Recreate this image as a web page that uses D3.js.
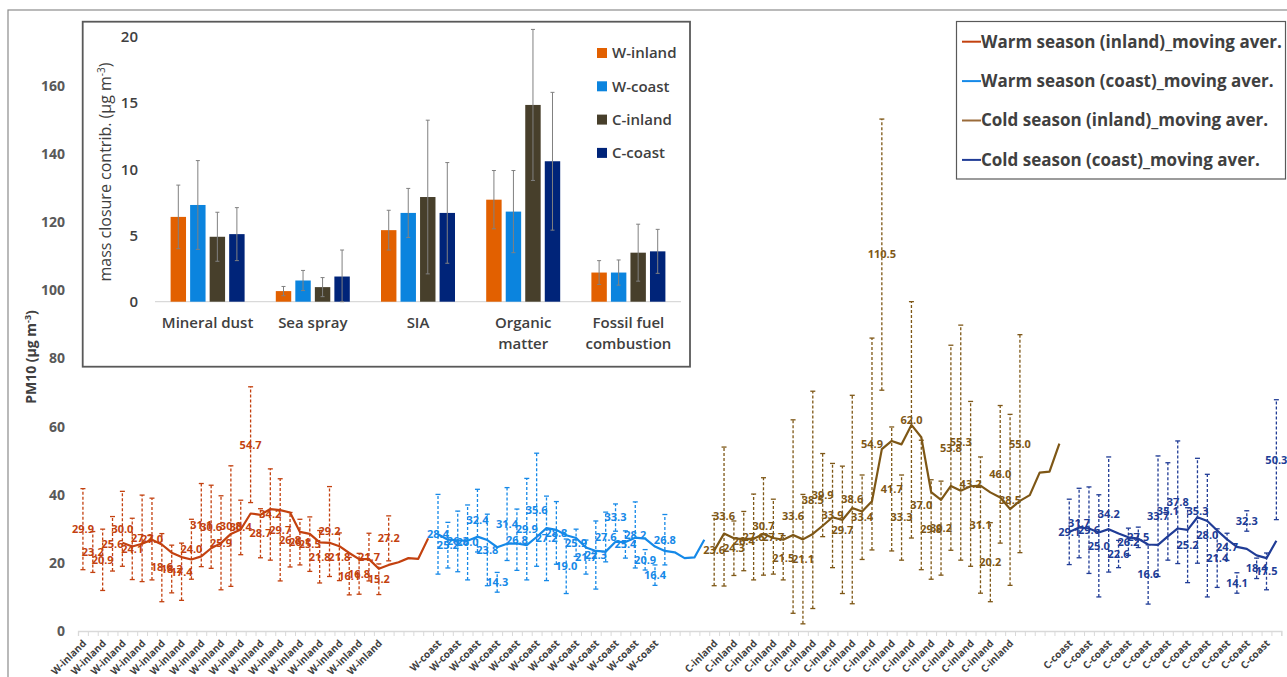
<!DOCTYPE html>
<html>
<head>
<meta charset="utf-8">
<script src="https://cdnjs.cloudflare.com/ajax/libs/d3/7.8.5/d3.min.js"></script>
<style>
body { margin: 0; background: #fff; }
text { font-family: "Open Sans", sans-serif; }
</style>
</head>
<body>
<div id="chart"></div>
<script>
// ---- main chart data: PM10 per sample (mean, sd) and moving average ----
const groupNames = ["W-inland", "W-coast", "C-inland", "C-coast"]
const groupStart = [0, 36, 64, 100]
const maStart = [4, 36, 64, 100]
const nSlots = 122
const yTicks = [0, 20, 40, 60, 80, 100, 120, 140, 160]

const wInlandMean = [29.9, 23.2, 20.9, 25.6, 30.0, 24.1, 27.2, 27.0, 18.6, 18.2, 17.4, 24.0, 31.1, 30.6, 25.9, 30.8,
  30.4, 54.7, 28.7, 34.2, 29.7, 26.8, 26.1, 25.5, 21.8, 29.2, 21.8, 16.1, 16.8, 21.7, 15.2, 27.2]
const wInlandSd = [11.9, 6, 9, 8, 11, 9, 12.7, 12, 10, 7, 8.4, 8.8, 12.2, 12.2, 13.8, 17.7,
  8, 17, 7.2, 13.4, 15, 8, 6.7, 8, 7.7, 13.2, 7, 5.5, 6, 7, 4.5, 6.6]
const wInlandMA = [25.9, 24.8, 25.6, 26.8, 25.4, 23.0, 21.7, 21.0, 21.9, 24.3, 25.8, 28.5, 29.8, 34.5, 34.1, 35.8,
  35.5, 34.8, 29.1, 28.5, 26.0, 25.9, 24.9, 22.9, 21.1, 21.1, 18.3, 19.4, 20.2, 21.4, 21.2, 27.2]

const wCoastMean = [28.4, 25.2, 26.3, 26.0, 32.4, 23.8, 14.3, 31.4, 26.8, 29.9, 35.6, 27.2, 28.8, 19.0, 25.9, 21.7,
  22.3, 27.6, 33.3, 25.4, 28.2, 20.9, 16.4, 26.8]
const wCoastSd = [11.7, 6.7, 8.9, 11, 9.2, 10.5, 2.9, 10.7, 9, 14.9, 16.6, 12.4, 9.2, 8, 4, 5,
  10, 7.3, 4, 4, 9.7, 3, 3, 7.4]
const wCoastMA = [28.4, 26.8, 26.6, 26.5, 27.7, 26.7, 24.6, 25.6, 25.7, 25.2, 27.6, 30.2, 29.7, 28.1, 27.3, 24.5,
  23.5, 23.3, 26.2, 26.1, 27.4, 27.1, 24.8, 23.5, 23.1, 21.4, 21.6, 26.8]

const cInlandMean = [23.6, 33.6, 24.3, 26.4, 27.6, 30.7, 27.7, 21.5, 33.6, 21.1, 38.5, 39.9, 33.9, 29.7, 38.6, 33.4,
  54.9, 110.5, 41.7, 33.3, 62.0, 37.0, 29.8, 30.2, 53.8, 55.3, 43.2, 31.1, 20.2, 46.0, 38.5, 55.0]
const cInlandSd = [10.3, 20.4, 8, 8.7, 12.6, 14.3, 11, 6.5, 28.4, 19, 31.9, 12.2, 15.3, 18.7, 30.6, 12.4,
  31.1, 39.8, 18.2, 12.5, 34.7, 19, 14.6, 13.8, 30.1, 34.5, 24.2, 20, 11.6, 20.2, 25.1, 32]
const cInlandMA = [23.6, 28.6, 27.2, 27.0, 27.1, 28.5, 27.3, 26.8, 28.2, 26.9, 28.5, 30.9, 33.4, 32.6, 36.1, 35.1,
  38.1, 53.4, 55.8, 54.8, 60.5, 56.9, 40.8, 38.5, 42.6, 41.2, 42.5, 42.7, 40.7, 39.2, 35.8, 38.2,
  39.9, 46.5, 46.8, 55.0]

const cCoastMean = [29.1, 31.7, 29.6, 25.0, 34.2, 22.6, 26.2, 27.5, 16.6, 33.7, 35.1, 37.8, 25.2, 35.3, 28.0, 21.4,
  24.7, 14.1, 32.3, 18.4, 17.5, 50.3]
const cCoastSd = [9.6, 10.2, 12.7, 15, 16.9, 4, 4, 3, 8.7, 17.7, 14.3, 18, 11, 15.4, 18, 8.6,
  4, 3, 3, 3, 5.4, 17.6]
const cCoastMA = [29.1, 30.4, 30.1, 28.9, 29.9, 28.6, 27.5, 27.1, 25.4, 25.3, 27.8, 30.1, 29.7, 33.4, 32.3, 29.5,
  26.9, 24.7, 24.1, 22.2, 21.4, 26.5]

const legendLabels = ["Warm season (inland)_moving aver.", "Warm season (coast)_moving aver.",
  "Cold season (inland)_moving aver.", "Cold season (coast)_moving aver."]

// ---- inset data: mass closure contributions ----
const sources = ["Mineral dust", "Sea spray", "SIA", "Organic matter", "Fossil fuel combustion"]
const sourceLines = [["Mineral dust"], ["Sea spray"], ["SIA"], ["Organic", "matter"], ["Fossil fuel", "combustion"]]
const insetTicks = [0, 5, 10, 15, 20]
const wInlandContrib = [6.4, 0.8, 5.4, 7.7, 2.2]
const wInlandContribSd = [2.4, 0.35, 1.5, 2.2, 0.9]
const wCoastContrib = [7.3, 1.6, 6.7, 6.8, 2.2]
const wCoastContribSd = [3.35, 0.76, 1.85, 3.1, 0.95]
const cInlandContrib = [4.9, 1.1, 7.9, 14.85, 3.7]
const cInlandContribSd = [1.85, 0.72, 5.8, 5.7, 2.15]
const cCoastContrib = [5.1, 1.9, 6.7, 10.6, 3.8]
const cCoastContribSd = [2.0, 2.0, 3.8, 5.2, 1.66]

// styles
const lineColors = ["#C3410F", "#1589E8", "#7E5716", "#203C96"]
const legendColors = ["#C3410F", "#1589E8", "#9A6B3A", "#203C96"]
const barColors = ["#E26000", "#0B84DE", "#473F2B", "#002479"]
const font = '"Open Sans", sans-serif'

const groups = [
  {mean: wInlandMean, sd: wInlandSd, ma: wInlandMA},
  {mean: wCoastMean, sd: wCoastSd, ma: wCoastMA},
  {mean: cInlandMean, sd: cInlandSd, ma: cInlandMA},
  {mean: cCoastMean, sd: cCoastSd, ma: cCoastMA}
]

// svg
const width = 1287
const height = 677
const svg = d3.select("#chart").append("svg")
  .attr("width", width)
  .attr("height", height)

svg.append("rect")
  .attr("x", 8).attr("y", 10).attr("width", 1300).attr("height", 700)
  .attr("fill", "#fff").attr("stroke", "#8c8c8c").attr("stroke-width", 1.2)

// scales
const x = d3.scaleBand().domain(d3.range(nSlots)).range([78, 1281.3])
const cx = i => x(i) + x.bandwidth() / 2
const xEdge = d3.scaleLinear().domain([0, nSlots]).range([78, 1281.3])
const y = d3.scaleLinear().domain([0, 180]).range([631, 17.9])

// category of each slot
const slotName = d3.range(nSlots).map(() => "")
groups.forEach((g, gi) => g.mean.forEach((m, k) => { slotName[groupStart[gi] + k] = groupNames[gi] }))

// y axis
let yAxisGroup = svg.append("g").attr("id", "yAxisGroup")
  .attr("transform", "translate(70,0)")
  .attr("font-family", font)
  .call(d3.axisLeft(y).tickValues(yTicks).tickSize(0).tickPadding(5))
yAxisGroup.select(".domain").remove()
yAxisGroup.selectAll("text")
  .attr("font-size", 14).attr("font-weight", 700).attr("fill", "#595959")

svg.append("text")
  .attr("transform", "translate(31,357) rotate(-90)")
  .attr("text-anchor", "middle")
  .attr("dy", "0.35em")
  .attr("font-size", 14).attr("font-weight", 700).attr("fill", "#404040")
  .call(t => {
    t.append("tspan").text("PM10 (µg m")
    t.append("tspan").attr("font-size", 9).attr("dy", "-0.6em").text("-3")
    t.append("tspan").attr("dy", "0.4em").text(")")
  })

// x axis: ticks between categories
let xAxisGroup = svg.append("g").attr("id", "xAxisGroup")
  .attr("transform", "translate(0,631)")
  .call(d3.axisBottom(xEdge).tickValues(d3.range(nSlots + 1)).tickSize(5).tickFormat(""))
xAxisGroup.select(".domain").attr("stroke", "#d9d9d9").attr("stroke-width", 1.3)
xAxisGroup.selectAll(".tick line").attr("stroke", "#d9d9d9")

let xLabelGroup = svg.append("g")
  .attr("transform", "translate(0,631)")
  .attr("font-family", font)
  .call(d3.axisBottom(x)
    .tickValues(d3.range(0, nSlots, 2).filter(i => slotName[i]))
    .tickSize(0)
    .tickFormat(i => slotName[i]))
xLabelGroup.select(".domain").remove()
xLabelGroup.selectAll("text")
  .attr("y", 0).attr("dy", 0)
  .attr("text-anchor", "end")
  .attr("transform", "translate(4,13) rotate(-45)")
  .attr("font-size", 10).attr("font-weight", 700).attr("fill", "#404040")

// series
let elementGroup = svg.append("g").attr("id", "elementGroup")
groups.forEach((g, gi) => {
  const col = lineColors[gi]
  const pts = g.mean.map((m, k) => ({i: groupStart[gi] + k, m: m, sd: g.sd[k]}))
  const gEl = elementGroup.append("g")

  gEl.selectAll(".err").data(pts).join("line")
    .attr("x1", d => cx(d.i)).attr("x2", d => cx(d.i))
    .attr("y1", d => y(d.m - d.sd)).attr("y2", d => y(d.m + d.sd))
    .attr("stroke", col).attr("stroke-width", 1.3).attr("stroke-dasharray", "3,2")

  const caps = pts.flatMap(d => [d.m - d.sd, d.m + d.sd].map(v => ({i: d.i, v: v})))
  gEl.selectAll(".cap").data(caps).join("line")
    .attr("x1", d => cx(d.i) - 2.5).attr("x2", d => cx(d.i) + 2.5)
    .attr("y1", d => y(d.v)).attr("y2", d => y(d.v))
    .attr("stroke", col).attr("stroke-width", 1.3)

  const ma = g.ma.map((v, k) => ({i: maStart[gi] + k, v: v}))
  gEl.append("path").datum(ma)
    .attr("fill", "none").attr("stroke", col).attr("stroke-width", 2.2)
    .attr("stroke-linejoin", "round")
    .attr("d", d3.line().x(d => cx(d.i)).y(d => y(d.v)))

  gEl.selectAll(".lab").data(pts).join("text")
    .attr("x", d => cx(d.i)).attr("y", d => y(d.m))
    .attr("dy", "0.35em").attr("text-anchor", "middle")
    .attr("font-size", 11).attr("font-weight", 700).attr("fill", col)
    .text(d => d.m.toFixed(1))
})

// legend
const legend = svg.append("g")
legend.append("rect")
  .attr("x", 956.5).attr("y", 21.5).attr("width", 329).attr("height", 157.5)
  .attr("fill", "#fff").attr("stroke", "#595959").attr("stroke-width", 1.2)
legendLabels.forEach((lab, k) => {
  const ly = 41.7 + k * 39.4
  legend.append("line").attr("x1", 962).attr("x2", 981).attr("y1", ly).attr("y2", ly)
    .attr("stroke", legendColors[k]).attr("stroke-width", 2)
  legend.append("text").attr("x", 981).attr("y", ly).attr("dy", "0.35em")
    .attr("font-size", 17).attr("font-weight", 700).attr("fill", "#404040")
    .text(lab)
})

// ---- inset bar chart ----
const inset = svg.append("g").attr("id", "inset")
inset.append("rect")
  .attr("x", 82.7).attr("y", 21.7).attr("width", 607.3).attr("height", 345)
  .attr("fill", "#fff").attr("stroke", "#595959").attr("stroke-width", 1.8)

const insetData = [
  {mean: wInlandContrib, sd: wInlandContribSd},
  {mean: wCoastContrib, sd: wCoastContribSd},
  {mean: cInlandContrib, sd: cInlandContribSd},
  {mean: cCoastContrib, sd: cCoastContribSd}
]
const x0 = d3.scaleBand().domain(sources).range([155, 681])
const x1 = d3.scaleBand().domain(groupNames).range([0, 74]).paddingInner(0.21)
const yi = d3.scaleLinear().domain([0, 20]).range([301.7, 36.7])
const groupOff = (x0.bandwidth() - 74) / 2

let insetY = inset.append("g")
  .attr("transform", "translate(143,0)")
  .attr("font-family", font)
  .call(d3.axisLeft(yi).tickValues(insetTicks).tickSize(0).tickPadding(5))
insetY.select(".domain").remove()
insetY.selectAll("text").attr("font-size", 15).attr("font-weight", 600).attr("fill", "#404040")

inset.append("line")
  .attr("x1", 155).attr("x2", 681).attr("y1", yi(0)).attr("y2", yi(0))
  .attr("stroke", "#d9d9d9").attr("stroke-width", 1.3)

insetData.forEach((s, si) => {
  const rows = sources.map((src, k) => ({src: src, v: s.mean[k], sd: s.sd[k]}))
  const bx = d => x0(d.src) + groupOff + x1(groupNames[si])
  inset.selectAll(".bar" + si).data(rows).join("rect")
    .attr("x", bx).attr("width", x1.bandwidth())
    .attr("y", d => yi(d.v)).attr("height", d => yi(0) - yi(d.v))
    .attr("fill", barColors[si])
  const mid = d => bx(d) + x1.bandwidth() / 2
  inset.selectAll(".ebar" + si).data(rows).join("line")
    .attr("x1", mid).attr("x2", mid)
    .attr("y1", d => yi(Math.max(0, d.v - d.sd))).attr("y2", d => yi(d.v + d.sd))
    .attr("stroke", "#808080").attr("stroke-width", 1)
  const caps = rows.flatMap(d => [Math.max(0, d.v - d.sd), d.v + d.sd].map(v => ({d: d, v: v})))
  inset.selectAll(".ecap" + si).data(caps).join("line")
    .attr("x1", c => mid(c.d) - 2).attr("x2", c => mid(c.d) + 2)
    .attr("y1", c => yi(c.v)).attr("y2", c => yi(c.v))
    .attr("stroke", "#808080").attr("stroke-width", 1)
})

sources.forEach((src, k) => {
  const t = inset.append("text")
    .attr("x", x0(src) + x0.bandwidth() / 2).attr("y", 323)
    .attr("text-anchor", "middle").attr("dy", "0.35em")
    .attr("font-size", 15).attr("font-weight", 600).attr("fill", "#404040")
  sourceLines[k].forEach((ln, j) => {
    t.append("tspan").attr("x", x0(src) + x0.bandwidth() / 2).attr("dy", j === 0 ? "0.35em" : "1.4em").text(ln)
  })
})

inset.append("text")
  .attr("transform", "translate(105,172) rotate(-90)")
  .attr("text-anchor", "middle").attr("dy", "0.35em")
  .attr("font-size", 16).attr("fill", "#404040")
  .call(t => {
    t.append("tspan").text("mass closure contrib. (µg m")
    t.append("tspan").attr("font-size", 10).attr("dy", "-0.6em").text("-3")
    t.append("tspan").attr("dy", "0.4em").text(")")
  })

groupNames.forEach((nm, k) => {
  const ly = 53 + k * 33.3
  inset.append("rect").attr("x", 597).attr("y", ly - 5).attr("width", 10).attr("height", 10)
    .attr("fill", barColors[k])
  inset.append("text").attr("x", 612).attr("y", ly).attr("dy", "0.35em")
    .attr("font-size", 15).attr("font-weight", 600).attr("fill", "#404040")
    .text(nm)
})
</script>
</body>
</html>
